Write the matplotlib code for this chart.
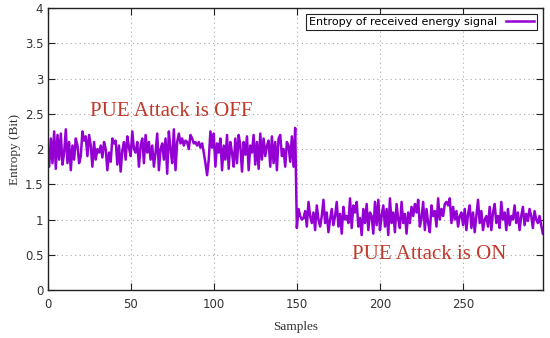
import numpy as np
import matplotlib
matplotlib.use("Agg")
import matplotlib.pyplot as plt

# entropy values (bit)
entropy_off = [
    2.05, 1.75, 2.15, 1.80, 2.25, 1.72, 2.20, 1.85, 2.22, 1.78,
    1.95, 2.28, 1.80, 2.10, 1.70, 2.05, 1.85, 2.15, 2.05, 1.80,
    1.90, 2.25, 2.12, 2.18, 1.90, 2.20, 2.05, 1.75, 2.10, 1.85,
    2.00, 1.95, 2.05, 1.88, 2.10, 2.00, 1.70, 1.95, 1.82, 2.15,
    2.08, 2.12, 1.78, 2.05, 1.68, 1.98, 2.10, 1.85, 2.18, 2.02,
    1.90, 2.25, 2.00, 1.95, 2.10, 1.75, 2.05, 2.15, 1.80, 2.20,
    1.95, 2.10, 1.85, 2.05, 1.75, 1.95, 2.22, 1.70, 2.00, 2.08,
    1.85, 2.15, 1.65, 2.25, 2.00, 1.80, 2.28, 1.70, 2.10, 2.22,
    2.08, 2.15, 2.05, 2.12, 2.10, 2.00, 2.20, 2.15, 2.08, 2.10,
    2.05, 2.10, 2.02, 2.08, 1.95, 1.80, 1.63, 1.85, 2.25, 2.02,
    2.22, 1.75, 2.08, 1.95, 2.15, 1.70, 2.05, 1.85, 2.20, 1.72,
    2.10, 1.95, 1.75, 2.15, 1.80, 2.20, 2.05, 1.68, 2.10, 1.92,
    2.18, 1.70, 2.05, 1.95, 2.20, 1.78, 2.10, 1.72, 2.22, 1.85,
    2.15, 1.90, 2.05, 2.12, 1.75, 2.18, 1.80, 2.10, 1.70, 2.15,
    2.20, 1.90, 2.00, 1.75, 2.10, 2.05, 1.82, 2.18, 1.75, 2.30,
]
entropy_on = [
    0.88, 1.15, 1.05, 1.00, 1.02, 1.12, 0.90, 1.25, 1.05, 0.95,
    1.10, 0.85, 1.20, 1.00, 0.90, 1.05, 1.28, 0.95, 1.10, 0.82,
    1.00, 1.15, 0.92, 1.05, 1.25, 0.90, 1.08, 0.80, 1.18, 1.00,
    1.05, 0.95, 1.30, 0.88, 1.20, 1.10, 1.25, 0.90, 1.02, 0.78,
    1.15, 0.95, 1.22, 0.85, 1.10, 1.05, 0.80, 1.25, 0.92, 1.28,
    0.85, 1.05, 1.20, 0.90, 1.15, 0.78, 1.30, 0.95, 1.10, 0.82,
    1.22, 1.00, 0.88, 1.25, 0.95, 1.08, 0.80, 1.10, 0.95, 1.18,
    1.05, 1.22, 1.10, 1.28, 0.90, 1.02, 1.25, 0.85, 1.15, 0.95,
    0.82, 1.20, 1.05, 1.12, 0.90, 1.30, 1.00, 1.15, 1.05, 1.22,
    1.25, 1.20, 1.30, 0.95, 1.18, 1.00, 1.12, 0.90, 1.05, 1.10,
    0.92, 1.15, 0.85, 1.08, 1.20, 0.88, 1.10, 0.82, 1.05, 1.28,
    0.95, 1.12, 0.85, 1.00, 1.05, 0.90, 1.18, 0.85, 1.10, 1.22,
    0.95, 1.05, 0.88, 1.25, 1.00, 1.10, 0.85, 1.15, 0.92, 1.05,
    1.00, 1.20, 0.95, 1.10, 0.85, 1.05, 1.18, 0.92, 1.08, 0.98,
    1.15, 1.05, 0.88, 1.12, 1.00, 0.95, 1.05, 0.92, 0.80,
]
entropy = np.array(entropy_off + entropy_on)
samples = np.arange(len(entropy))

x_ticks = [0, 50, 100, 150, 200, 250]
y_ticks = [0, 0.5, 1, 1.5, 2, 2.5, 3, 3.5, 4]
y_tick_labels = ["0", "0.5", "1", "1.5", "2", "2.5", "3", "3.5", "4"]

fig = plt.figure(figsize=(5.5, 3.38), dpi=100)
ax = fig.add_axes([0.0864, 0.142, 0.9006, 0.834])

ax.plot(samples, entropy, color="#9400D3", lw=1.8,
        label="Entropy of received energy signal")

ax.set_xlim(0, len(entropy) - 1)
ax.set_ylim(0, 4)
ax.set_xticks(x_ticks)
ax.set_yticks(y_ticks)
ax.set_yticklabels(y_tick_labels)
ax.tick_params(direction="in", top=True, right=True, length=5, width=0.8,
               labelsize=8.5, labelcolor="#333333", color="#222222")
ax.tick_params(axis="y", pad=3)
ax.tick_params(axis="x", pad=6)
ax.grid(True, color="#aaaaaa", ls=(0, (1, 3)), lw=0.8)
for s in ax.spines.values():
    s.set_linewidth(1.0)
    s.set_color("#222222")

ax.set_xlabel("Samples", family="Liberation Serif", fontsize=9.5,
              color="#333333", labelpad=7)
ax.set_ylabel("Entropy (Bit)", family="Liberation Serif", fontsize=9.5,
              color="#333333", labelpad=3)

ax.text(25.5, 2.53, "PUE Attack is OFF", family="Liberation Serif",
        fontsize=15, color="#c0392b", va="center", ha="left")
ax.text(183, 0.5, "PUE Attack is ON", family="Liberation Serif",
        fontsize=15, color="#c0392b", va="center", ha="left")

leg = ax.legend(loc="upper right", markerfirst=False, fontsize=8,
                frameon=True, fancybox=False, framealpha=1.0,
                edgecolor="#222222", borderpad=0.3, handlelength=2.5,
                borderaxespad=0.5)
leg.get_frame().set_linewidth(0.8)

fig.savefig("out.png", dpi=100)
